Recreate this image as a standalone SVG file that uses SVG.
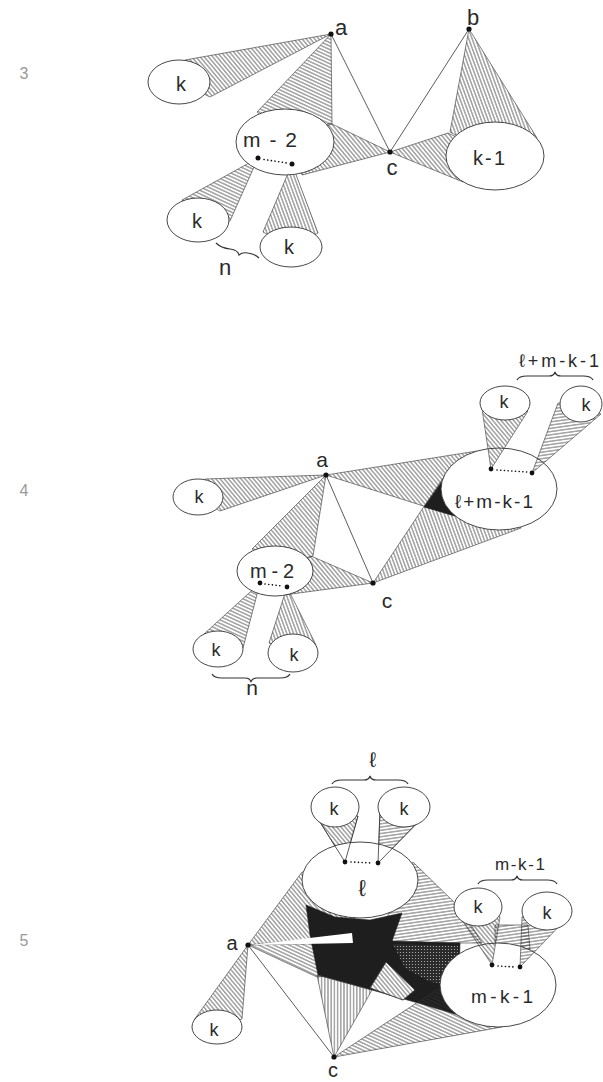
<svg xmlns="http://www.w3.org/2000/svg" width="603" height="1082" viewBox="0 0 603 1082">
<style>
.ell{fill:#fff;stroke:#333;stroke-width:0.9}
.lbl{font-family:"Liberation Sans","DejaVu Sans",sans-serif;fill:#2a2a2a;text-anchor:middle}
.num{font-family:"Liberation Sans",sans-serif;fill:#999;font-size:16px;text-anchor:middle}
.edge{stroke:#333;stroke-width:0.8;fill:none}
.sh{stroke:#333;stroke-width:0.6}
.dark{fill:#1e1e1e;stroke:#222;stroke-width:0.6}
.dot{fill:#111}
.dots{stroke:#111;stroke-width:1.6;stroke-linecap:round;stroke-dasharray:0.1 3.6;fill:none}
.brace{fill:none;stroke:#333;stroke-width:1.2}
</style>
<defs>
<pattern id="hA" width="3.2" height="3.2" patternUnits="userSpaceOnUse" patternTransform="rotate(50)"><line x1="0" y1="1.6" x2="3.2" y2="1.6" stroke="#333" stroke-width="0.7"/></pattern>
<pattern id="hB" width="3.2" height="3.2" patternUnits="userSpaceOnUse" patternTransform="rotate(-50)"><line x1="0" y1="1.6" x2="3.2" y2="1.6" stroke="#333" stroke-width="0.7"/></pattern>
<pattern id="hC" width="3.2" height="3.2" patternUnits="userSpaceOnUse" patternTransform="rotate(70)"><line x1="0" y1="1.6" x2="3.2" y2="1.6" stroke="#333" stroke-width="0.7"/></pattern>
<pattern id="hD" width="3.2" height="3.2" patternUnits="userSpaceOnUse" patternTransform="rotate(25)"><line x1="0" y1="1.6" x2="3.2" y2="1.6" stroke="#333" stroke-width="0.7"/></pattern>
<pattern id="hH" width="3.2" height="3.2" patternUnits="userSpaceOnUse" patternTransform="rotate(-8)"><line x1="0" y1="1.6" x2="3.2" y2="1.6" stroke="#333" stroke-width="0.7"/></pattern>
<pattern id="hV" width="3.2" height="3.2" patternUnits="userSpaceOnUse" patternTransform="rotate(90)"><line x1="0" y1="1.6" x2="3.2" y2="1.6" stroke="#333" stroke-width="0.7"/></pattern>
<pattern id="dg" width="3" height="3" patternUnits="userSpaceOnUse"><rect width="3" height="3" fill="#2a2a2a"/><circle cx="1.5" cy="1.5" r="0.6" fill="#bbb"/></pattern>
</defs>
<rect width="603" height="1082" fill="#fff"/>

<!-- figure numbers -->
<text class="num" x="24" y="79">3</text>
<text class="num" x="24" y="496">4</text>
<text class="num" x="24" y="946">5</text>

<!-- ================= FIGURE 3 ================= -->
<g id="fig3">
  <g id="fig3-shading">
    <polygon class="sh" fill="url(#hA)" points="331,34 185,60 179,82 210,97"/>
    <polygon class="sh" fill="url(#hD)" points="331,34 257,112 285,142 332,124"/>
    <polygon class="sh" fill="url(#hA)" points="390,152 330,123 285,142 302,175"/>
    <polygon class="sh" fill="url(#hA)" points="390,152 448,133 495,156 463,182"/>
    <polygon class="sh" fill="url(#hC)" points="469,29 450,132 495,156 537,138"/>
    <polygon class="sh" fill="url(#hD)" points="258,158 182,200 198,220 230,221"/>
    <polygon class="sh" fill="url(#hC)" points="292,164 263,232 291,247 318,233"/>
  </g>
  <g id="fig3-connectors">
    <line class="edge" x1="331" y1="34" x2="390" y2="152"/>
    <line class="edge" x1="469" y1="29" x2="390" y2="152"/>
    <path class="brace" d="M216,243 Q221,248 230,249 Q238,250 239,255 Q242,252 248,253 Q255,254 259,258"/>
  </g>
  <g id="fig3-k-top"><ellipse class="ell" cx="179" cy="82" rx="31" ry="22"/><text class="lbl" x="181" y="91" font-size="20">k</text></g>
  <g id="fig3-m2"><ellipse class="ell" cx="285" cy="142" rx="49" ry="33"/><text class="lbl" x="270" y="147" font-size="21" textLength="54" lengthAdjust="spacing">m-2</text>
    <circle class="dot" cx="258" cy="158" r="2.5"/><circle class="dot" cx="292" cy="164" r="2.5"/>
    <line class="dots" x1="264" y1="159.5" x2="287" y2="163"/></g>
  <g id="fig3-k1"><ellipse class="ell" cx="495" cy="156" rx="49" ry="34"/><text class="lbl" x="489" y="165" font-size="20" textLength="32" lengthAdjust="spacing">k-1</text></g>
  <g id="fig3-k-b1"><ellipse class="ell" cx="198" cy="220" rx="31" ry="22"/><text class="lbl" x="197" y="228" font-size="20">k</text></g>
  <g id="fig3-k-b2"><ellipse class="ell" cx="291" cy="247" rx="31" ry="20"/><text class="lbl" x="289" y="254" font-size="20">k</text></g>
  <g id="fig3-a"><circle class="dot" cx="331" cy="34" r="2.6"/><text class="lbl" x="341" y="35" font-size="22">a</text></g>
  <g id="fig3-b"><circle class="dot" cx="469" cy="29" r="2.6"/><text class="lbl" x="473" y="25" font-size="22">b</text></g>
  <g id="fig3-c"><circle class="dot" cx="390" cy="152" r="2.6"/><text class="lbl" x="392" y="175" font-size="22">c</text></g>
  <text class="lbl" x="225" y="275" font-size="22">n</text>
</g>

<!-- ================= FIGURE 4 ================= -->
<g id="fig4">
  <g id="fig4-shading">
    <polygon class="sh" fill="url(#hA)" points="326,475 205,479 198,497 220,511"/>
    <polygon class="sh" fill="url(#hA)" points="326,475 252,549 275,571 313,556"/>
    <polygon class="sh" fill="url(#hA)" points="373,583 311,556 275,571 284,595"/>
    <polygon class="sh" fill="url(#hA)" points="326,475 477,451 499,489 455,516"/>
    <polygon class="sh" fill="url(#hC)" points="373,583 443,478 499,489 521,528"/>
    <polygon class="dark" points="424,507 443,480 499,489 455,516"/>
    <polygon class="sh" fill="url(#hD)" points="260,583 204,634 218,649 243,648"/>
    <polygon class="sh" fill="url(#hC)" points="287,587 269,643 293,653 316,645"/>
  </g>
  <g id="fig4-connectors">
    <line class="edge" x1="326" y1="475" x2="373" y2="583"/>
    <path class="brace" d="M517,380 Q519,376 527,376 L549,376 Q554,376 555,372 Q556,376 561,376 L583,376 Q591,376 593,380"/>
    <path class="brace" d="M212,674 Q214,678 222,678 L245,678 Q250,678 251,682 Q252,678 257,678 L280,678 Q288,678 290,674"/>
  </g>
  <g id="fig4-k-left"><ellipse class="ell" cx="198" cy="497" rx="25" ry="18"/><text class="lbl" x="199" y="503" font-size="18">k</text></g>
  <g id="fig4-m2"><ellipse class="ell" cx="275" cy="571" rx="38" ry="25"/><text class="lbl" x="272" y="578" font-size="20" textLength="44" lengthAdjust="spacing">m-2</text></g>
  <g id="fig4-big"><ellipse class="ell" cx="499" cy="489" rx="58" ry="41"/><text class="lbl" x="494" y="508" font-size="19" textLength="78" lengthAdjust="spacing">ℓ+m-k-1</text></g>
  <g id="fig4-cones-top">
    <polygon class="sh" fill="url(#hA)" points="491,469 481,402 505,403 528,411"/>
    <polygon class="sh" fill="url(#hH)" points="532,473 558,403 581,404 601,414"/>
  </g>
  <g id="fig4-k-t1"><ellipse class="ell" cx="505" cy="403" rx="25" ry="17"/><text class="lbl" x="504" y="408" font-size="18">k</text></g>
  <g id="fig4-k-t2"><ellipse class="ell" cx="581" cy="404" rx="21" ry="18"/><text class="lbl" x="586" y="411" font-size="18">k</text></g>
  <g id="fig4-k-b1"><ellipse class="ell" cx="218" cy="649" rx="25" ry="18"/><text class="lbl" x="216" y="656" font-size="18">k</text></g>
  <g id="fig4-k-b2"><ellipse class="ell" cx="293" cy="653" rx="25" ry="19"/><text class="lbl" x="294" y="661" font-size="18">k</text></g>
  <g id="fig4-dots">
    <circle class="dot" cx="491" cy="469" r="2.4"/><circle class="dot" cx="532" cy="473" r="2.4"/>
    <line class="dots" x1="497" y1="470" x2="527" y2="472"/>
    <circle class="dot" cx="260" cy="583" r="2.4"/><circle class="dot" cx="287" cy="587" r="2.4"/>
    <line class="dots" x1="265" y1="584" x2="282" y2="586"/>
  </g>
  <g id="fig4-a"><circle class="dot" cx="326" cy="475" r="2.6"/><text class="lbl" x="322" y="467" font-size="21">a</text></g>
  <g id="fig4-c"><circle class="dot" cx="373" cy="583" r="2.6"/><text class="lbl" x="387" y="608" font-size="21">c</text></g>
  <text class="lbl" x="559" y="367" font-size="18" textLength="80" lengthAdjust="spacing">ℓ+m-k-1</text>
  <text class="lbl" x="252" y="695" font-size="21">n</text>
</g>

<!-- ================= FIGURE 5 ================= -->
<g id="fig5">
  <g id="fig5-shading">
    <polygon class="sh" fill="url(#hA)" points="248,945 194,1020 217,1027 242,1019"/>
    <polygon class="sh" fill="url(#hA)" points="248,945 302,872 360,882 352,935"/>
    <polygon class="sh" fill="url(#hH)" points="413,862 460,908 470,923 482,943 393,943 387,917"/>
    <polygon class="sh" fill="url(#hH)" points="495,925 528,925 530,950 495,950"/>
    <polygon class="sh" fill="url(#hD)" points="248,945 353,943 338,975 317,977"/>
    <polygon class="dark" points="306,905 335,917 370,920 402,913 392,941 460,943 458,1015 418,1003 372,990 318,975 310,935"/>
    <polygon fill="url(#dg)" points="393,944 458,946 457,985 430,982 405,968"/>
    <polygon fill="#fff" points="250,945 352,933 353,943"/>
    <polygon class="sh" fill="#fff" points="370,988 386,962 415,990 403,1000"/>
    <polygon class="sh" fill="url(#hA)" points="370,988 386,962 415,990 403,1000"/>
    <polygon class="sh" fill="url(#hV)" points="334,1057 317,975 372,990"/>
    <polygon class="sh" fill="url(#hD)" points="334,1057 447,983 498,985 502,1027"/>
    <polygon class="sh" fill="url(#hA)" points="345,862 313,811 335,807 358,816"/>
    <polygon class="sh" fill="url(#hH)" points="378,863 380,811 404,807 428,812"/>
  </g>
  <g id="fig5-connectors">
    <line class="edge" x1="248" y1="945" x2="334" y2="1057"/>
    <path class="brace" d="M332,784 Q334,780 342,780 L364,780 Q369,780 370,776 Q371,780 376,780 L398,780 Q406,780 408,784"/>
    <path class="brace" d="M478,884 Q480,880 488,880 L511,880 Q516,880 517,876 Q518,880 523,880 L547,880 Q555,880 557,884"/>
  </g>
  <g id="fig5-l"><ellipse class="ell" cx="360" cy="880" rx="58" ry="38"/><text class="lbl" x="362" y="896" font-size="23">ℓ</text>
    <polyline class="edge" points="313,811 345,862 358,816"/>
    <polyline class="edge" points="380,811 378,863 428,812"/></g>
  <g id="fig5-mk1"><ellipse class="ell" cx="498" cy="985" rx="58" ry="42"/><text class="lbl" x="502" y="1003" font-size="19" textLength="62" lengthAdjust="spacing">m-k-1</text></g>
  <g id="fig5-cones-right">
    <polygon class="sh" fill="url(#hA)" points="492,965 456,911 478,907 500,917"/>
    <polygon class="sh" fill="url(#hH)" points="520,967 522,917 547,911 569,916"/>
  </g>
  <g id="fig5-k-t1"><ellipse class="ell" cx="335" cy="807" rx="24" ry="20"/><text class="lbl" x="334" y="815" font-size="18">k</text></g>
  <g id="fig5-k-t2"><ellipse class="ell" cx="404" cy="807" rx="26" ry="20"/><text class="lbl" x="404" y="815" font-size="18">k</text></g>
  <g id="fig5-k-r1"><ellipse class="ell" cx="478" cy="907" rx="24" ry="19"/><text class="lbl" x="478" y="913" font-size="18">k</text></g>
  <g id="fig5-k-r2"><ellipse class="ell" cx="547" cy="911" rx="25" ry="19"/><text class="lbl" x="547" y="919" font-size="18">k</text></g>
  <g id="fig5-k-bl"><ellipse class="ell" cx="217" cy="1027" rx="25" ry="17"/><text class="lbl" x="214" y="1036" font-size="18">k</text></g>
  <g id="fig5-dots">
    <circle class="dot" cx="345" cy="862" r="2.4"/><circle class="dot" cx="378" cy="863" r="2.4"/>
    <line class="dots" x1="351" y1="862" x2="373" y2="863"/>
    <circle class="dot" cx="492" cy="965" r="2.4"/><circle class="dot" cx="520" cy="967" r="2.4"/>
    <line class="dots" x1="498" y1="966" x2="515" y2="967"/>
  </g>
  <g id="fig5-a"><circle class="dot" cx="248" cy="945" r="2.6"/><text class="lbl" x="232" y="950" font-size="20">a</text></g>
  <g id="fig5-c"><circle class="dot" cx="334" cy="1057" r="2.6"/><text class="lbl" x="333" y="1077" font-size="20">c</text></g>
  <text class="lbl" x="373" y="767" font-size="21">ℓ</text>
  <text class="lbl" x="520" y="870" font-size="17" textLength="50" lengthAdjust="spacing">m-k-1</text>
</g>
</svg>
